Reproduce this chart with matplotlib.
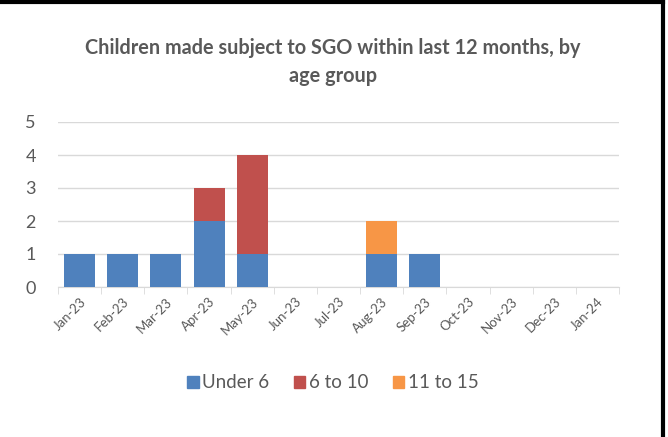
import matplotlib
matplotlib.use("Agg")
import matplotlib.pyplot as plt
from matplotlib.lines import Line2D
from matplotlib.patches import Patch
import numpy as np

plt.rcParams['font.family'] = ['Lato', 'DejaVu Sans']

categories = ["Jan-23", "Feb-23", "Mar-23", "Apr-23", "May-23", "Jun-23", "Jul-23",
              "Aug-23", "Sep-23", "Oct-23", "Nov-23", "Dec-23", "Jan-24"]
under6 = [1, 1, 1, 2, 1, 0, 0, 1, 1, 0, 0, 0, 0]
six_to_ten = [0, 0, 0, 1, 3, 0, 0, 0, 0, 0, 0, 0, 0]
eleven_to_fifteen = [0, 0, 0, 0, 0, 0, 0, 1, 0, 0, 0, 0, 0]
series_names = ["Under 6", "6 to 10", "11 to 15"]
colors = ["#4F81BD", "#C0504D", "#F79646"]
text_col = "#595959"

fig = plt.figure(figsize=(6.68, 4.37), dpi=100)
ax = fig.add_axes([58/668, 1-287/437, (619-58)/668, (287-122)/437])

x = np.arange(len(categories))
w = 0.72
b1 = np.array(under6)
b2 = np.array(six_to_ten)
b3 = np.array(eleven_to_fifteen)
ax.bar(x, b1, w, color=colors[0], zorder=3)
ax.bar(x, b2, w, bottom=b1, color=colors[1], zorder=3)
ax.bar(x, b3, w, bottom=b1+b2, color=colors[2], zorder=3)

ax.set_xlim(-0.5, len(categories)-0.5)
ax.set_ylim(0, 5)
ax.set_yticks(range(0, 6))
ax.yaxis.grid(True, color="#D9D9D9", linewidth=1, zorder=0)
for s in ["top", "right", "left"]:
    ax.spines[s].set_visible(False)
ax.spines["bottom"].set_color("#D9D9D9")
ax.tick_params(axis="y", length=0, labelsize=13, labelcolor=text_col, pad=16)
ax.set_xticks(x)
ax.set_xticklabels(categories, rotation=45, ha="right", rotation_mode="anchor",
                   fontsize=9.5, color=text_col)
ax.tick_params(axis="x", length=0, pad=6)
ax.set_xticks(np.arange(-0.5, len(categories), 1), minor=True)
ax.tick_params(axis="x", which="minor", length=5, color="#D9D9D9")

fig.text(333/668, 1-62/437, "Children made subject to SGO within last 12 months, by\nage group",
         ha="center", va="center", fontsize=14.3, fontweight="bold", color=text_col,
         linespacing=1.55)

handles = [Patch(color=c, label=n) for c, n in zip(colors, series_names)]
fig.legend(handles=handles, loc="center", bbox_to_anchor=(333/668, 1-383/437), ncol=3,
           frameon=False, fontsize=13.5, labelcolor=text_col, handlelength=0.6,
           handleheight=0.6, handletextpad=0.2, columnspacing=1.3)

fig.add_artist(Line2D([0, 663/668], [1-1.5/437, 1-1.5/437], color="black", linewidth=3,
                      transform=fig.transFigure))
fig.add_artist(Line2D([663/668, 663/668], [0, 1], color="black", linewidth=3,
                      transform=fig.transFigure))

fig.savefig("out.png", dpi=100, facecolor="white")
